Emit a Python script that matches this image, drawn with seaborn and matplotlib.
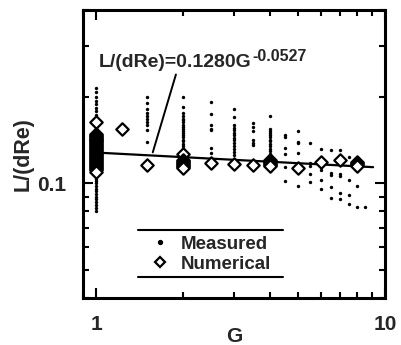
import numpy as np
import pandas as pd
import matplotlib
matplotlib.use("Agg")
import matplotlib.pyplot as plt
import seaborn as sns
from matplotlib.ticker import LogLocator, NullFormatter, FixedFormatter, FixedLocator

# measured points, grouped by G value
meas_levels = [1, 1.5, 2, 2.5, 3, 3.5, 4, 4.5, 5, 5.5, 6, 6.5, 7, 7.5, 8, 8.5]
meas_values = [
    [0.215, 0.207, 0.200, 0.194, 0.188, 0.183, 0.178, 0.173, 0.168, 0.164,
     0.160, 0.156, 0.152, 0.148, 0.145, 0.142, 0.139, 0.136, 0.133, 0.131,
     0.128, 0.126, 0.124, 0.122, 0.120, 0.118, 0.116, 0.114, 0.112, 0.110,
     0.108, 0.106, 0.104, 0.102, 0.100, 0.098, 0.096, 0.094, 0.092, 0.090,
     0.088, 0.086, 0.084, 0.082, 0.080],
    [0.199, 0.190, 0.182, 0.175, 0.171, 0.168, 0.163, 0.159, 0.153, 0.139],
    [0.199, 0.184, 0.176, 0.172, 0.168, 0.166, 0.163, 0.160, 0.157, 0.155,
     0.152, 0.150, 0.147, 0.145, 0.142, 0.140, 0.137, 0.135, 0.132, 0.130,
     0.127, 0.125, 0.122, 0.120],
    [0.191, 0.174, 0.159, 0.155, 0.153, 0.133, 0.128],
    [0.182, 0.170, 0.159, 0.156, 0.153, 0.150, 0.147, 0.144, 0.141, 0.138,
     0.135, 0.132, 0.129, 0.126],
    [0.162, 0.157, 0.152, 0.142, 0.138, 0.136],
    [0.171, 0.155, 0.152, 0.150, 0.147, 0.145, 0.142, 0.140, 0.137, 0.135,
     0.132, 0.130, 0.127, 0.125, 0.122, 0.120, 0.117, 0.115],
    [0.147, 0.145, 0.133, 0.127, 0.114, 0.102],
    [0.152, 0.139, 0.138, 0.128, 0.114, 0.098],
    [0.138, 0.118, 0.115, 0.108, 0.101],
    [0.132, 0.122, 0.117, 0.111, 0.103, 0.096],
    [0.131, 0.109, 0.107, 0.097, 0.089],
    [0.131, 0.108, 0.106, 0.093, 0.088],
    [0.124, 0.103, 0.091, 0.085],
    [0.120, 0.098, 0.083],
    [0.083],
]

# numerical results, grouped by G value
num_levels = [1, 1.23, 1.5, 2, 2.5, 3, 3.5, 4, 5, 6, 7, 8]
num_values = [
    [0.163, 0.148, 0.147, 0.146, 0.145, 0.144, 0.143, 0.142, 0.141, 0.140,
     0.139, 0.138, 0.137, 0.136, 0.135, 0.134, 0.133, 0.132, 0.131, 0.130,
     0.129, 0.128, 0.127, 0.126, 0.125, 0.124, 0.123, 0.122, 0.121, 0.120,
     0.119, 0.118, 0.117, 0.116, 0.115, 0.114, 0.113, 0.112, 0.111, 0.110],
    [0.155],
    [0.1155],
    [0.127, 0.121, 0.120, 0.119, 0.118, 0.117, 0.116, 0.115, 0.114, 0.113],
    [0.118],
    [0.117],
    [0.116],
    [0.121, 0.120, 0.119, 0.118, 0.117, 0.116, 0.115],
    [0.113],
    [0.119],
    [0.121],
    [0.119, 0.118, 0.117, 0.116, 0.115],
]

# power-law fit end points
fit_g = [1.0, 9.1]
fit_val = [0.1280, 0.1139]

sns.set_theme(style="ticks")
plt.rcParams["font.family"] = ["Liberation Sans", "DejaVu Sans"]
plt.rcParams["font.weight"] = "bold"

meas_df = pd.DataFrame({
    "G": [g for g, vals in zip(meas_levels, meas_values) for _ in vals],
    "val": [v for vals in meas_values for v in vals],
})
num_df = pd.DataFrame({
    "G": [g for g, vals in zip(num_levels, num_values) for _ in vals],
    "val": [v for vals in num_values for v in vals],
})
fit_df = pd.DataFrame({"G": fit_g, "val": fit_val})

fig = plt.figure(figsize=(4.01, 3.45), dpi=100)
ax = fig.add_axes([0.207, 0.136, 0.753, 0.835])

sns.lineplot(data=fit_df, x="G", y="val", color="black", lw=1.6, ax=ax,
             legend=False)
sns.scatterplot(data=meas_df, x="G", y="val", color="black", s=6,
                linewidth=0, ax=ax, zorder=3)
sns.scatterplot(data=num_df, x="G", y="val", marker="D", s=40,
                facecolor="white", edgecolor="black", linewidth=1.6,
                ax=ax, zorder=4)

ax.set_xscale("log")
ax.set_yscale("log")
ax.set_xlim(0.9, 10)
ax.set_ylim(0.04, 0.4)

ax.xaxis.set_major_locator(FixedLocator([1, 10]))
ax.xaxis.set_major_formatter(FixedFormatter(["1", "10"]))
ax.xaxis.set_minor_locator(LogLocator(base=10, subs=np.arange(2, 10)))
ax.xaxis.set_minor_formatter(NullFormatter())
ax.yaxis.set_major_locator(FixedLocator([0.1]))
ax.yaxis.set_major_formatter(FixedFormatter(["0.1"]))
ax.yaxis.set_minor_locator(LogLocator(base=10, subs=np.arange(2, 10)))
ax.yaxis.set_minor_formatter(NullFormatter())

ax.tick_params(which="both", direction="in", top=True, right=True,
               width=1.5, color="black")
ax.tick_params(which="major", length=7, labelsize=15, pad=12)
ax.tick_params(which="minor", length=4)
for lab in ax.get_xticklabels() + ax.get_yticklabels():
    lab.set_fontweight("bold")
for sp in ax.spines.values():
    sp.set_linewidth(2.2)
    sp.set_color("black")

ax.set_xlabel("G", fontsize=15, fontweight="bold")
ax.set_ylabel("L/(dRe)", fontsize=15.5, fontweight="bold")
ax.xaxis.label.set_va("center")
ax.yaxis.label.set_va("center")
ax.xaxis.set_label_coords(0.5, -0.135)
ax.yaxis.set_label_coords(-0.199, 0.5)

# fit annotation: main text, exponent placed after it, leader line
eq = ax.text(1.02, 0.253, "L/(dRe)=0.1280G", fontsize=14, fontweight="bold",
             ha="left", va="baseline")
ax.annotate("-0.0527", xy=(1.0, 1.0), xycoords=eq, xytext=(0.5, 4),
            textcoords="offset points", fontsize=11.5, fontweight="bold",
            ha="left", va="top")
ax.annotate("", xy=(1.56, 0.1255), xytext=(1.9, 0.244),
            arrowprops=dict(arrowstyle="-", color="black", lw=1.4))

# legend with rules above and below
handles = [
    plt.Line2D([], [], ls="none", marker="o", ms=2.8, color="black"),
    plt.Line2D([], [], ls="none", marker="D", ms=5, mfc="white",
               mec="black", mew=1.6),
]
leg = ax.legend(handles, ["Measured", "Numerical"], loc="center",
                bbox_to_anchor=(0.42, 0.152), frameon=False, fontsize=13.5,
                handletextpad=0.5, labelspacing=0.15, handlelength=1.2)
for t in leg.get_texts():
    t.set_fontweight("bold")
ax.plot([0.182, 0.662], [0.236, 0.236], transform=ax.transAxes,
        color="black", lw=1.5, clip_on=False)
ax.plot([0.182, 0.662], [0.073, 0.073], transform=ax.transAxes,
        color="black", lw=1.5, clip_on=False)

fig.savefig("out.png", dpi=100)
